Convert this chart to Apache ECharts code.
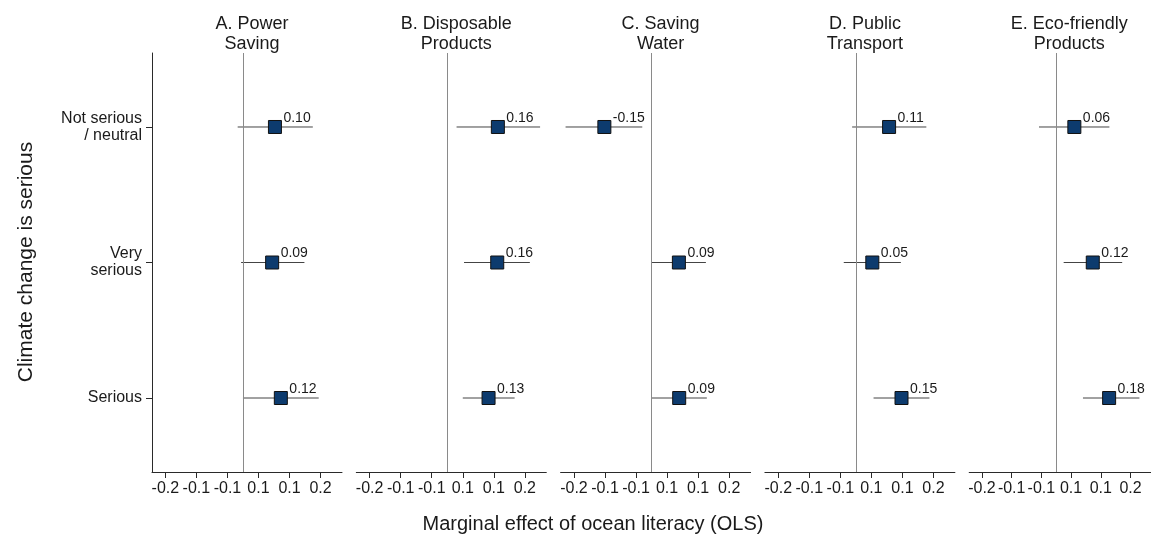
<!DOCTYPE html>
<html lang="en">
<head>
    <meta charset="UTF-8">
    <title>Marginal effect of ocean literacy</title>
    <script src="https://cdn.jsdelivr.net/npm/echarts@6/dist/echarts.min.js"></script>
    <style>
        html, body { margin: 0; padding: 0; background: #fff; }
    </style>
</head>
<body>
<div id="main" style="width:1151px;height:538px;"></div>
<script type="text/javascript">
    // rows, top to bottom
    var categories = ['Not serious\n/ neutral', 'Very\nserious', 'Serious'];
    var panelTitles = ['A. Power\nSaving', 'B. Disposable\nProducts', 'C. Saving\nWater', 'D. Public\nTransport', 'E. Eco-friendly\nProducts'];
    var tickValues = [-0.25, -0.15, -0.05, 0.05, 0.15, 0.25];
    var tickLabels = ['-0.2', '-0.1', '-0.1', '0.1', '0.1', '0.2'];

    // point estimates per panel (rows in category order)
    var estA = [0.103, 0.094, 0.122];
    var estB = [0.163, 0.161, 0.133];
    var estC = [-0.152, 0.088, 0.089];
    var estD = [0.107, 0.053, 0.147];
    var estE = [0.061, 0.123, 0.178];

    // confidence interval bounds
    var loA = [-0.017, -0.006, 0.000], hiA = [0.225, 0.198, 0.244];
    var loB = [0.030, 0.054, 0.050],   hiB = [0.299, 0.266, 0.217];
    var loC = [-0.277, 0.000, 0.000],  hiC = [-0.030, 0.175, 0.178];
    var loD = [-0.012, -0.039, 0.057], hiD = [0.227, 0.145, 0.237];
    var loE = [-0.058, 0.025, 0.090],  hiE = [0.179, 0.222, 0.280];

    var estimates = [estA, estB, estC, estD, estE];
    var lows = [loA, loB, loC, loD, loE];
    var highs = [hiA, hiB, hiC, hiD, hiE];

    var FONT = '"Liberation Sans", Arial, sans-serif';
    var TEXT = '#1a1a1a';
    var AXIS = '#2a2a2a';

    var myChart = echarts.init(document.getElementById('main'));

    var grids = [], xAxes = [], yAxes = [], series = [], titles = [];
    for (var i = 0; i < 5; i++) {
        var left = 152 + i * 204.3;
        grids.push({left: left, top: 53, width: 190, height: 419});
        titles.push({
            text: panelTitles[i],
            left: left + 95,
            top: 9,
            textAlign: 'center',
            textStyle: {fontFamily: FONT, fontSize: 18, fontWeight: 'normal', color: TEXT, lineHeight: 20}
        });
        xAxes.push({
            type: 'value',
            gridIndex: i,
            min: -0.293,
            max: 0.319,
            splitLine: {show: false},
            axisLine: {show: true, onZero: false, lineStyle: {color: AXIS, width: 1}},
            axisTick: {show: true, length: 6, customValues: tickValues, lineStyle: {color: AXIS}},
            axisLabel: {
                customValues: tickValues,
                hideOverlap: false,
                showMinLabel: true,
                showMaxLabel: true,
                margin: 9,
                fontFamily: FONT,
                fontSize: 16,
                color: TEXT,
                formatter: function (v) {
                    for (var k = 0; k < tickValues.length; k++) {
                        if (Math.abs(tickValues[k] - v) < 1e-6) return tickLabels[k];
                    }
                    return '';
                }
            }
        });
        yAxes.push({
            type: 'value',
            gridIndex: i,
            inverse: true,
            min: -0.546,
            max: 2.546,
            splitLine: {show: false},
            axisLine: {show: i === 0, onZero: false, lineStyle: {color: AXIS, width: 1}},
            axisTick: {show: i === 0, length: 6, customValues: [0, 1, 2], lineStyle: {color: AXIS}},
            axisLabel: {
                show: i === 0,
                customValues: [0, 1, 2],
                margin: 10,
                fontFamily: FONT,
                fontSize: 16,
                lineHeight: 17,
                align: 'right',
                color: TEXT,
                formatter: function (v) {
                    return categories[Math.round(v)] || '';
                }
            }
        });

        var ciData = [], ptData = [];
        for (var r = 0; r < categories.length; r++) {
            ciData.push([lows[i][r], highs[i][r], r]);
            ptData.push([estimates[i][r], r]);
        }

        series.push({
            type: 'custom',
            xAxisIndex: i,
            yAxisIndex: i,
            silent: true,
            z: 2,
            encode: {x: [0, 1], y: 2},
            renderItem: function (params, api) {
                var y = api.value(2);
                var p1 = api.coord([api.value(0), y]);
                var p2 = api.coord([api.value(1), y]);
                return {
                    type: 'line',
                    shape: {x1: p1[0], y1: p1[1], x2: p2[0], y2: p2[1]},
                    style: {stroke: '#444', lineWidth: 1}
                };
            },
            data: ciData
        });

        series.push({
            type: 'scatter',
            xAxisIndex: i,
            yAxisIndex: i,
            symbol: 'rect',
            symbolSize: 13,
            z: 3,
            itemStyle: {color: '#0d3b6e', borderColor: '#111', borderWidth: 1, opacity: 1},
            label: {
                show: true,
                position: 'right',
                distance: 1.5,
                offset: [0, -9],
                fontFamily: FONT,
                fontSize: 14,
                color: TEXT,
                formatter: function (p) {
                    return p.value[0].toFixed(2);
                }
            },
            markLine: {
                silent: true,
                symbol: 'none',
                label: {show: false},
                lineStyle: {color: '#8a8a8a', width: 1, type: 'solid'},
                data: [{xAxis: 0}]
            },
            data: ptData
        });
    }

    var option = {
        animation: false,
        backgroundColor: '#fff',
        title: titles,
        grid: grids,
        xAxis: xAxes,
        yAxis: yAxes,
        series: series,
        graphic: [
            {
                type: 'text',
                x: 593,
                y: 524,
                style: {
                    text: 'Marginal effect of ocean literacy (OLS)',
                    font: '20px ' + FONT,
                    fill: TEXT,
                    textAlign: 'center',
                    textVerticalAlign: 'middle'
                }
            },
            {
                type: 'text',
                x: 26,
                y: 262,
                rotation: Math.PI / 2,
                style: {
                    text: 'Climate change is serious',
                    font: '21px ' + FONT,
                    fill: TEXT,
                    textAlign: 'center',
                    textVerticalAlign: 'middle'
                }
            }
        ]
    };
    myChart.setOption(option);
</script>
</body>
</html>
